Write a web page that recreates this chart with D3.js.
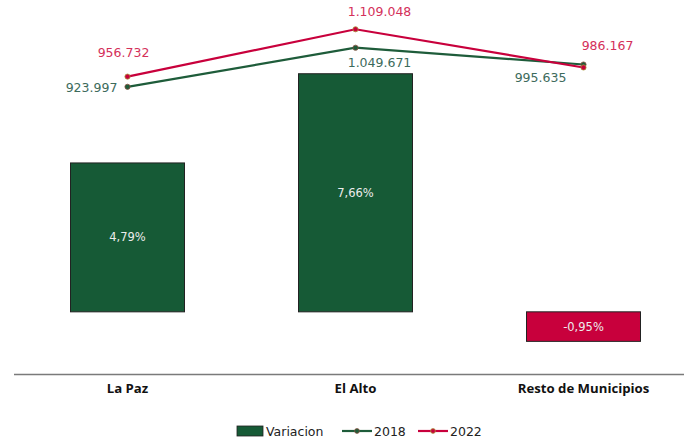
<!DOCTYPE html>
<html><head><meta charset="utf-8">
<script src="https://cdn.jsdelivr.net/npm/d3@7"></script>
<style>body{margin:0;background:#fff}svg{display:block}</style>
</head><body>
<script>
const categories = ["La Paz", "El Alto", "Resto de Municipios"];
const variacion = [4.79, 7.66, -0.95];
const v2018 = [923997, 1049671, 995635];
const v2022 = [956732, 1109048, 986167];
const seriesNames = ["Variacion", "2018", "2022"];

const W = 684, H = 439;
const svg = d3.select("body").append("svg").attr("width", W).attr("height", H);
const font = "DejaVu Sans, Verdana, sans-serif";

const x = d3.scaleBand().domain(categories).range([13.5, 697.5]).paddingInner(0.5).paddingOuter(0.25);
const y = d3.scaleLinear().domain([-2, 10]).range([374, 1]);
const y2 = d3.scaleLinear().domain([0, 1200000]).range([374, 1]);

const green = "#165a36", red = "#c8003c";
const fmtPct = v => d3.format(".2f")(v).replace(".", ",").replace("\u2212", "-") + "%";
const fmtNum = d3.formatLocale({decimal: ",", thousands: ".", grouping: [3], currency: ["", ""]}).format(",d");

// bars
svg.selectAll("rect.bar").data(categories).join("rect")
  .attr("x", d => x(d)).attr("width", x.bandwidth())
  .attr("y", (d, i) => y(Math.max(0, variacion[i])))
  .attr("height", (d, i) => Math.abs(y(variacion[i]) - y(0)))
  .attr("fill", (d, i) => variacion[i] >= 0 ? green : red)
  .attr("stroke", "#222").attr("stroke-width", 1);

svg.selectAll("text.bl").data(categories).join("text")
  .attr("x", d => x(d) + x.bandwidth() / 2)
  .attr("y", (d, i) => (y(variacion[i]) + y(0)) / 2 + 4)
  .attr("text-anchor", "middle").attr("font-family", font).attr("font-size", 11.5)
  .attr("fill", "#ececec").text((d, i) => fmtPct(variacion[i]));

// axis line
const xAxis = svg.append("g").attr("transform", "translate(0,374)")
  .call(d3.axisBottom(x).tickSize(0).tickPadding(10));
xAxis.select(".domain").attr("stroke", "#7a7a7a").attr("stroke-width", 1.3);
xAxis.selectAll("text").attr("font-family", "Open Sans, Liberation Sans, sans-serif")
  .attr("font-weight", "bold").attr("font-size", 13.2).attr("fill", "#111");

// lines
const cx = d => x(d) + x.bandwidth() / 2;
const series = [
  {vals: v2018, color: "#1e5c3a", mstroke: "#8a5040", lcolor: "#3d6b5c"},
  {vals: v2022, color: "#c8003c", mstroke: "#a8983c", lcolor: "#d4305a"}
];
const line = d3.line().x(d => cx(d.c)).y(d => y2(d.v));
series.forEach(s => {
  const pts = categories.map((c, i) => ({c, v: s.vals[i]}));
  svg.append("path").datum(pts).attr("d", line).attr("fill", "none")
    .attr("stroke", s.color).attr("stroke-width", 2.2);
  svg.selectAll(null).data(pts).join("circle")
    .attr("cx", d => cx(d.c)).attr("cy", d => y2(d.v)).attr("r", 2.6)
    .attr("fill", s.color).attr("stroke", s.mstroke).attr("stroke-width", 0.8);
});

// value labels
const lab = [
  [0, 0, -36, 5],
  [1, 0, -4, -20],
  [0, 1, 24, 19],
  [1, 1, 24, -13],
  [0, 2, -43, 17],
  [1, 2, 24, -17]
];
lab.forEach(([si, ci, dx, dy]) => {
  const s = series[si];
  svg.append("text").attr("x", cx(categories[ci]) + dx).attr("y", y2(s.vals[ci]) + dy)
    .attr("text-anchor", "middle").attr("font-family", font).attr("font-size", 12.5)
    .attr("fill", s.lcolor).text(fmtNum(s.vals[ci]));
});

// legend
const lg = svg.append("g").attr("font-family", font).attr("font-size", 12.5).attr("fill", "#222");
lg.append("rect").attr("x", 237).attr("y", 426).attr("width", 26).attr("height", 10)
  .attr("fill", green).attr("stroke", "#222").attr("stroke-width", 0.8);
lg.append("text").attr("x", 266).attr("y", 435.5).text(seriesNames[0]);
[[342, series[0], seriesNames[1]], [418, series[1], seriesNames[2]]].forEach(([lx, s, name]) => {
  lg.append("line").attr("x1", lx).attr("x2", lx + 30).attr("y1", 431).attr("y2", 431)
    .attr("stroke", s.color).attr("stroke-width", 2.2);
  lg.append("circle").attr("cx", lx + 15).attr("cy", 431).attr("r", 2.4)
    .attr("fill", s.color).attr("stroke", s.mstroke).attr("stroke-width", 0.8);
  lg.append("text").attr("x", lx + 32).attr("y", 435.5).text(name);
});
</script>
</body></html>
